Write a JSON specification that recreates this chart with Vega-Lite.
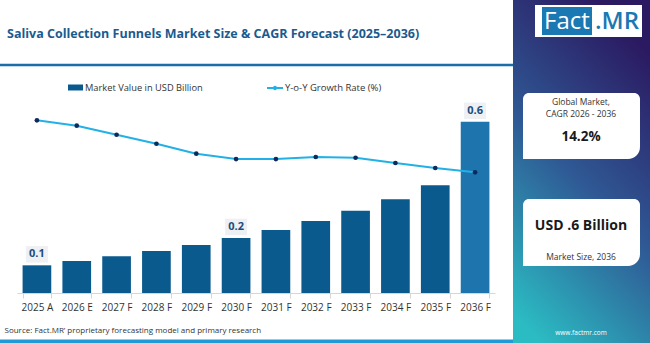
{
  "$schema": "https://vega.github.io/schema/vega-lite/v6.json",
  "width": 478,
  "height": 214,
  "autosize": {"type": "none"},
  "padding": {"left": 17, "top": 79, "right": 155, "bottom": 50},
  "background": "#ffffff",
  "config": {
    "view": {"stroke": null},
    "font": "Open Sans"
  },
  "datasets": {
    "main": [
      {"year": "2025 A", "value": 0.097, "growth": 16.14, "label": "0.1", "series": "Market Value in USD Billion", "series2": "Y-o-Y Growth Rate (%)"},
      {"year": "2026 E", "value": 0.112, "growth": 15.64, "series": "Market Value in USD Billion", "series2": "Y-o-Y Growth Rate (%)"},
      {"year": "2027 F", "value": 0.129, "growth": 14.79, "series": "Market Value in USD Billion", "series2": "Y-o-Y Growth Rate (%)"},
      {"year": "2028 F", "value": 0.147, "growth": 13.95, "series": "Market Value in USD Billion", "series2": "Y-o-Y Growth Rate (%)"},
      {"year": "2029 F", "value": 0.168, "growth": 13.02, "series": "Market Value in USD Billion", "series2": "Y-o-Y Growth Rate (%)"},
      {"year": "2030 F", "value": 0.193, "growth": 12.52, "label": "0.2", "series": "Market Value in USD Billion", "series2": "Y-o-Y Growth Rate (%)"},
      {"year": "2031 F", "value": 0.221, "growth": 12.52, "series": "Market Value in USD Billion", "series2": "Y-o-Y Growth Rate (%)"},
      {"year": "2032 F", "value": 0.252, "growth": 12.71, "series": "Market Value in USD Billion", "series2": "Y-o-Y Growth Rate (%)"},
      {"year": "2033 F", "value": 0.288, "growth": 12.64, "series": "Market Value in USD Billion", "series2": "Y-o-Y Growth Rate (%)"},
      {"year": "2034 F", "value": 0.329, "growth": 12.15, "series": "Market Value in USD Billion", "series2": "Y-o-Y Growth Rate (%)"},
      {"year": "2035 F", "value": 0.378, "growth": 11.68, "series": "Market Value in USD Billion", "series2": "Y-o-Y Growth Rate (%)"},
      {"year": "2036 F", "value": 0.6, "growth": 11.28, "label": "0.6", "series": "Market Value in USD Billion", "series2": "Y-o-Y Growth Rate (%)"}
    ]
  },
  "layer": [
    {
      "data": {"values": [{}]},
      "mark": {"type": "rect", "x": 496, "x2": 633, "y": -79, "y2": 264,
        "fill": {"gradient": "linear", "x1": 0.6, "y1": 0, "x2": 0.2, "y2": 1,
          "stops": [{"offset": 0, "color": "#2b1a62"}, {"offset": 0.5, "color": "#2f5a95"}, {"offset": 1, "color": "#2bbcc3"}]}}
    },
    {
      "data": {"values": [{}]},
      "mark": {"type": "rect", "x": 518, "x2": 625, "y": -74, "y2": -42, "fill": "#ffffff"}
    },
    {
      "data": {"values": [{}]},
      "mark": {"type": "rect", "x": 525, "x2": 575, "y": -72, "y2": -44, "fill": "#1a78b3"}
    },
    {
      "data": {"values": [{}]},
      "mark": {"type": "text", "x": 550, "y": -57, "text": "Fact", "font": "Open Sans", "fontSize": 24, "fill": "#ffffff", "align": "center", "baseline": "middle"}
    },
    {
      "data": {"values": [{}]},
      "mark": {"type": "text", "x": 600, "y": -57, "text": ".MR", "font": "Open Sans", "fontSize": 24, "fontWeight": 600, "fill": "#1a78b3", "align": "center", "baseline": "middle"}
    },
    {
      "data": {"values": [{}]},
      "mark": {"type": "rect", "x": 506, "x2": 623, "y": 14, "y2": 80, "fill": "#ffffff", "cornerRadiusTopLeft": 6, "cornerRadiusTopRight": 6, "cornerRadiusBottomRight": 12}
    },
    {
      "data": {"values": [{}]},
      "mark": {"type": "rect", "x": 506, "x2": 623, "y": 120, "y2": 187, "fill": "#ffffff", "cornerRadiusTopLeft": 6, "cornerRadiusTopRight": 6, "cornerRadiusBottomRight": 12}
    },
    {
      "data": {"values": [{}]},
      "mark": {"type": "text", "x": 564, "y": 23, "text": "Global Market,", "fontSize": 8.5, "fill": "#333333", "align": "center", "baseline": "middle"}
    },
    {
      "data": {"values": [{}]},
      "mark": {"type": "text", "x": 564, "y": 34.5, "text": "CAGR 2026 - 2036", "fontSize": 8.5, "fill": "#333333", "align": "center", "baseline": "middle"}
    },
    {
      "data": {"values": [{}]},
      "mark": {"type": "text", "x": 564, "y": 58, "text": "14.2%", "fontSize": 13.5, "fontWeight": "bold", "fill": "#1a1a1a", "align": "center", "baseline": "middle"}
    },
    {
      "data": {"values": [{}]},
      "mark": {"type": "text", "x": 564, "y": 147, "text": "USD .6 Billion", "fontSize": 14, "fontWeight": "bold", "fill": "#1a1a1a", "align": "center", "baseline": "middle"}
    },
    {
      "data": {"values": [{}]},
      "mark": {"type": "text", "x": 564, "y": 178, "text": "Market Size, 2036", "fontSize": 8.5, "fill": "#333333", "align": "center", "baseline": "middle"}
    },
    {
      "data": {"values": [{}]},
      "mark": {"type": "text", "x": 564, "y": 254, "text": "www.factmr.com", "fontSize": 6.5, "fill": "#ffffff", "align": "center", "baseline": "middle"}
    },
    {
      "data": {"values": [{}]},
      "mark": {"type": "text", "x": -10, "y": -45, "text": "Saliva Collection Funnels Market Size & CAGR Forecast (2025–2036)", "fontSize": 12.5, "fontWeight": "bold", "fill": "#1a5b8f", "align": "left", "baseline": "middle"}
    },
    {
      "data": {"values": [{}]},
      "mark": {"type": "rect", "x": -17, "x2": 496, "y": -15.3, "y2": -12.8, "fill": "#1b6ea8"}
    },
    {
      "data": {"values": [{}]},
      "mark": {"type": "rect", "x": -17, "x2": 496, "y": 260.5, "y2": 264, "fill": "#1e9bd7"}
    },
    {
      "data": {"name": "main"},
      "layer": [
        {
          "mark": {"type": "bar"},
          "encoding": {
            "x": {
              "field": "year", "type": "nominal", "sort": null,
              "scale": {"paddingInner": 0.28, "paddingOuter": 0.14},
              "axis": {
                "title": "Source: Fact.MR’ proprietary forecasting model and primary research",
                "titleX": -13, "titleY": 37, "titleAlign": "left", "titleAnchor": "start",
                "titleBaseline": "middle", "titleFontSize": 8, "titleFontWeight": "normal", "titleColor": "#333333",
                "labelAngle": 0, "labelFontSize": 10, "labelColor": "#333333", "labelPadding": 4,
                "domainColor": "#d6d6d6", "tickColor": "#d6d6d6", "tickBand": "extent", "tickSize": 5
              }
            },
            "y": {"field": "value", "type": "quantitative", "scale": {"domain": [0, 0.75], "nice": false}, "axis": null},
            "color": {
              "field": "series", "type": "nominal",
              "scale": {"range": ["#0a5a8e"]},
              "condition": {"test": "datum.year === '2036 F'", "value": "#1e74ad"},
              "legend": {
                "orient": "none", "legendX": 50, "legendY": 0, "title": null,
                "symbolType": "M-1,-0.4L1,-0.4L1,0.4L-1,0.4Z", "symbolSize": 225,
                "labelFontSize": 9.3, "labelColor": "#333333", "labelOffset": 1
              }
            }
          }
        },
        {
          "transform": [{"filter": "isValid(datum.label)"}],
          "mark": {"type": "point", "shape": "M-1,-0.75L1,-0.75L1,0.75L-1,0.75Z", "filled": true, "size": 484, "color": "#eef0f3", "opacity": 1, "yOffset": -11},
          "encoding": {
            "x": {"field": "year", "type": "nominal", "sort": null},
            "y": {"field": "value", "type": "quantitative", "scale": {"domain": [0, 0.75], "nice": false}, "axis": null}
          }
        },
        {
          "transform": [{"filter": "isValid(datum.label)"}],
          "mark": {"type": "text", "dy": -11, "baseline": "middle", "fontSize": 11, "fontWeight": "bold", "color": "#1b4e7d"},
          "encoding": {
            "x": {"field": "year", "type": "nominal", "sort": null},
            "y": {"field": "value", "type": "quantitative", "scale": {"domain": [0, 0.75], "nice": false}, "axis": null},
            "text": {"field": "label"}
          }
        }
      ]
    },
    {
      "data": {"name": "main"},
      "layer": [
        {
          "mark": {"type": "line", "strokeWidth": 2},
          "encoding": {
            "x": {"field": "year", "type": "nominal", "sort": null},
            "y": {"field": "growth", "type": "quantitative", "scale": {"domain": [0, 20], "nice": false}, "axis": null},
            "stroke": {
              "field": "series2", "type": "nominal",
              "scale": {"range": ["#22b1e6"]},
              "legend": {
                "orient": "none", "legendX": 249, "legendY": 0, "title": null,
                "symbolType": "M-1,0L1,0M-0.15,0A0.15,0.15 0 1,0 0.15,0A0.15,0.15 0 1,0 -0.15,0Z",
                "symbolSize": 256, "symbolStrokeWidth": 2, "symbolFillColor": "#0d2a5c",
                "labelFontSize": 9.5, "labelColor": "#333333", "labelOffset": 1,
                "encode": {"symbols": {"update": {"fill": {"value": "#0d2a5c"}, "stroke": {"value": "#22b1e6"}}}}
              }
            }
          }
        },
        {
          "mark": {"type": "point", "filled": true, "size": 22, "color": "#0d2a5c", "opacity": 1},
          "encoding": {
            "x": {"field": "year", "type": "nominal", "sort": null},
            "y": {"field": "growth", "type": "quantitative", "scale": {"domain": [0, 20], "nice": false}, "axis": null}
          }
        }
      ]
    }
  ],
  "resolve": {"scale": {"y": "independent"}}
}
